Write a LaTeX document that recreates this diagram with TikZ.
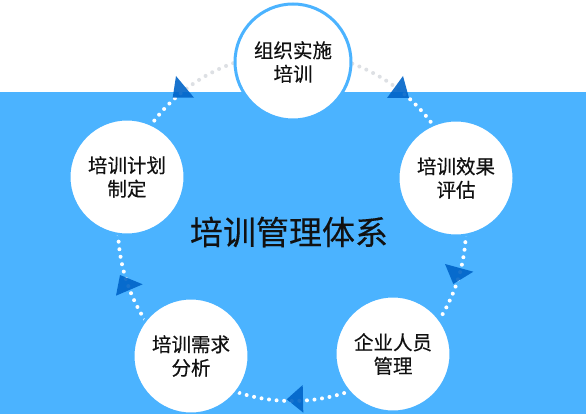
\documentclass[tikz,border=0pt]{standalone}
\usepackage{fontspec}
\setmainfont{Noto Sans CJK SC}[FakeBold=0.35,AutoFakeBold=0.35]
\newfontfamily\stagefont{Noto Sans CJK SC}[FakeBold=0.35]
\usetikzlibrary{calc}
\definecolor{bgblue}{RGB}{75,179,255}
\definecolor{arrowblue}{RGB}{0,100,200}
\definecolor{dotgray}{RGB}{221,224,228}
\definecolor{inktext}{RGB}{17,17,17}
\tikzset{
  stage/.style={circle, fill=white, draw=bgblue, line width=3pt, minimum size=116pt,
    inner sep=0pt, align=center, text=inktext, font=\stagefont\fontsize{19.5}{23.5}\selectfont},
  flowdots/.style={line width=4pt, line cap=round, dash pattern=on 0pt off 7.6pt},
  tip/.style={fill=arrowblue, fill opacity=0.9},
}
\begin{document}
\begin{tikzpicture}[x=1pt,y=-1pt]
\useasboundingbox (0,0) rectangle (586,414);
\fill[white] (0,0) rectangle (586,92);
\fill[bgblue] (0,92) rectangle (586,414);
\coordinate (hub) at (292,227);
\begin{scope}
  \clip (0,0) rectangle (586,92);
  \draw[flowdots, dotgray] (hub) circle[radius=174];
\end{scope}
\begin{scope}
  \clip (0,92) rectangle (586,414);
  \draw[flowdots, white] (hub) circle[radius=174];
\end{scope}
\node[stage] (exec)  at (293,62)  {组织实施\\培训};
\node[stage] (eval)  at (456,178) {培训效果\\评估};
\node[stage] (staff) at (393,354) {企业人员\\管理};
\node[stage] (needs) at (191,356) {培训需求\\分析};
\node[stage] (plan)  at (127,177) {培训计划\\制定};
\node[text=inktext, font=\stagefont\fontsize{33}{36}\selectfont] (title) at (289,232) {培训管理体系};
\fill[tip] (176,76) -- (172.7,97.7) -- (194,97.7) -- cycle;
\fill[tip] (403,76) -- (387,98) -- (409,98) -- cycle;
\fill[tip] (445,264) -- (473.3,271.7) -- (453.3,284) -- cycle;
\fill[tip] (286.7,399.3) -- (302.7,385) -- (303.3,412.7) -- cycle;
\fill[tip] (120,275) -- (142.7,284.3) -- (116,295.7) -- cycle;
\end{tikzpicture}
\end{document}
